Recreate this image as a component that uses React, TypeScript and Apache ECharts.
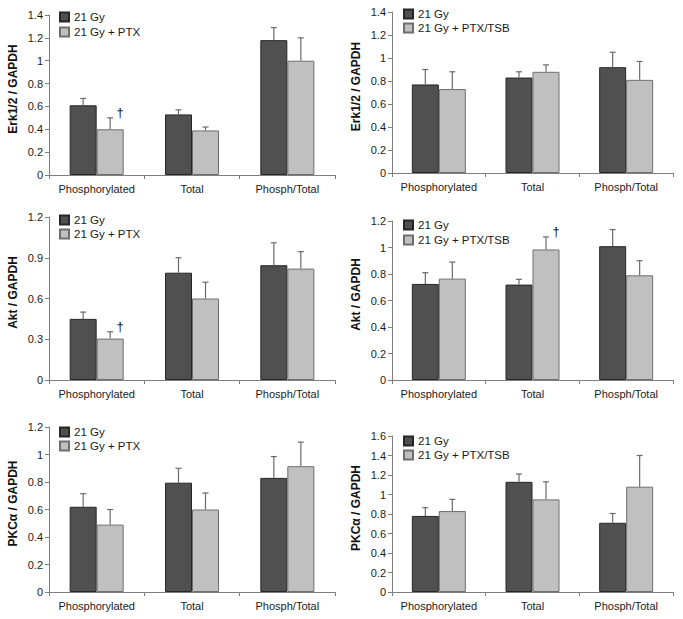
import React, { useEffect, useRef } from "react";
import * as echarts from "echarts";

const categories = ["Phosphorylated", "Total", "Phosph/Total"];
const darkName = "21 Gy";
const ptxName = "21 Gy + PTX";
const tsbName = "21 Gy + PTX/TSB";

// Erk1/2, PTX
const erkPtxDark = [0.61, 0.53, 1.18];
const erkPtxDarkTop = [0.67, 0.57, 1.29];
const erkPtxLight = [0.4, 0.39, 1.0];
const erkPtxLightTop = [0.5, 0.42, 1.2];
// Erk1/2, PTX/TSB
const erkTsbDark = [0.77, 0.83, 0.92];
const erkTsbDarkTop = [0.9, 0.88, 1.05];
const erkTsbLight = [0.73, 0.88, 0.81];
const erkTsbLightTop = [0.88, 0.94, 0.97];
// Akt, PTX
const aktPtxDark = [0.45, 0.79, 0.845];
const aktPtxDarkTop = [0.5, 0.9, 1.01];
const aktPtxLight = [0.305, 0.6, 0.82];
const aktPtxLightTop = [0.355, 0.72, 0.945];
// Akt, PTX/TSB
const aktTsbDark = [0.725, 0.72, 1.01];
const aktTsbDarkTop = [0.81, 0.76, 1.135];
const aktTsbLight = [0.765, 0.985, 0.79];
const aktTsbLightTop = [0.89, 1.08, 0.9];
// PKCa, PTX
const pkcPtxDark = [0.62, 0.795, 0.83];
const pkcPtxDarkTop = [0.715, 0.9, 0.985];
const pkcPtxLight = [0.49, 0.6, 0.915];
const pkcPtxLightTop = [0.6, 0.72, 1.09];
// PKCa, PTX/TSB
const pkcTsbDark = [0.78, 1.13, 0.71];
const pkcTsbDarkTop = [0.865, 1.21, 0.805];
const pkcTsbLight = [0.83, 0.95, 1.08];
const pkcTsbLightTop = [0.95, 1.13, 1.4];

const yMaxes = [1.4, 1.4, 1.2, 1.2, 1.2, 1.6];
const yIntervals = [0.2, 0.2, 0.3, 0.2, 0.2, 0.2];
const yNames = [
  "Erk1/2 / GAPDH",
  "Erk1/2 / GAPDH",
  "Akt / GAPDH",
  "Akt / GAPDH",
  "PKCα / GAPDH",
  "PKCα / GAPDH",
];
// dagger: category index on the light bar, or -1
const daggers = [0, -1, 0, 1, -1, -1];

const panels = [
  { light: ptxName, d: erkPtxDark, dt: erkPtxDarkTop, l: erkPtxLight, lt: erkPtxLightTop },
  { light: tsbName, d: erkTsbDark, dt: erkTsbDarkTop, l: erkTsbLight, lt: erkTsbLightTop },
  { light: ptxName, d: aktPtxDark, dt: aktPtxDarkTop, l: aktPtxLight, lt: aktPtxLightTop },
  { light: tsbName, d: aktTsbDark, dt: aktTsbDarkTop, l: aktTsbLight, lt: aktTsbLightTop },
  { light: ptxName, d: pkcPtxDark, dt: pkcPtxDarkTop, l: pkcPtxLight, lt: pkcPtxLightTop },
  { light: tsbName, d: pkcTsbDark, dt: pkcTsbDarkTop, l: pkcTsbLight, lt: pkcTsbLightTop },
];

// layout (pixels)
const grids = [
  { left: 49, top: 15, width: 286, height: 160 },
  { left: 392, top: 12, width: 281, height: 161 },
  { left: 49, top: 217, width: 286, height: 163 },
  { left: 392, top: 221, width: 281, height: 159 },
  { left: 49, top: 427, width: 286, height: 165 },
  { left: 392, top: 436, width: 281, height: 156 },
];
const legendPos = [
  { left: 59, top: 11, itemGap: 3 },
  { left: 403, top: 8, itemGap: 2 },
  { left: 59, top: 214, itemGap: 2 },
  { left: 403, top: 219, itemGap: 3 },
  { left: 59, top: 426, itemGap: 2 },
  { left: 403, top: 435, itemGap: 2 },
];

const DARK = "#505050";
const LIGHT = "#c0c0c0";
const FONT = "Liberation Sans, Arial, sans-serif";
const BAR_W = 27;

function buildOption() {
  const grid: any[] = [];
  const xAxis: any[] = [];
  const yAxis: any[] = [];
  const legend: any[] = [];
  const series: any[] = [];

  panels.forEach((p, i) => {
    grid.push({ ...grids[i], containLabel: false });
    xAxis.push({
      type: "category",
      gridIndex: i,
      data: categories,
      axisLine: { lineStyle: { color: "#7f7f7f", width: 1 } },
      axisTick: { show: true, length: 4, lineStyle: { color: "#7f7f7f" } },
      axisLabel: {
        color: "#1a1a1a",
        fontSize: 11,
        fontFamily: FONT,
        margin: 8,
        interval: 0,
        hideOverlap: false,
      },
    });
    yAxis.push({
      type: "value",
      gridIndex: i,
      min: 0,
      max: yMaxes[i],
      interval: yIntervals[i],
      name: yNames[i],
      nameLocation: "middle",
      nameGap: 30,
      nameTextStyle: {
        fontWeight: "bold",
        fontSize: 12,
        fontFamily: FONT,
        color: "#111",
        padding: [0, 0, 0, 12],
      },
      axisLine: { show: true, lineStyle: { color: "#7f7f7f", width: 1 } },
      axisTick: { show: true, length: 4, lineStyle: { color: "#7f7f7f" } },
      splitLine: { show: false },
      axisLabel: { color: "#1a1a1a", fontSize: 11, fontFamily: FONT, margin: 6 },
    });
    legend.push({
      left: legendPos[i].left,
      top: legendPos[i].top,
      padding: 0,
      orient: "vertical",
      data: [darkName, p.light],
      icon: "rect",
      itemWidth: 9,
      itemHeight: 9,
      itemGap: legendPos[i].itemGap,
      selectedMode: false,
      textStyle: { fontSize: 11.5, fontFamily: FONT, color: "#1a1a1a" },
    });
    series.push({
      type: "bar",
      name: darkName,
      xAxisIndex: i,
      yAxisIndex: i,
      data: p.d,
      barWidth: BAR_W,
      barGap: "0%",
      itemStyle: { color: DARK, borderColor: "#262626", borderWidth: 1 },
    });
    series.push({
      type: "bar",
      name: p.light,
      xAxisIndex: i,
      yAxisIndex: i,
      data: p.l,
      barWidth: BAR_W,
      barGap: "0%",
      itemStyle: { color: LIGHT, borderColor: "#6e6e6e", borderWidth: 1 },
    });
    const errData: any[] = [];
    p.d.forEach((v, k) => errData.push([k, v, p.dt[k], -1, 0]));
    p.l.forEach((v, k) => errData.push([k, v, p.lt[k], 1, daggers[i] === k ? 1 : 0]));
    series.push({
      type: "custom",
      name: "err" + i,
      xAxisIndex: i,
      yAxisIndex: i,
      z: 5,
      itemStyle: { color: "#111111" },
      data: errData,
      encode: { x: 0, y: [1, 2] },
      renderItem: (params: any, api: any) => {
        const base = api.coord([api.value(0), api.value(1)]);
        const top = api.coord([api.value(0), api.value(2)]);
        const x = base[0] + (api.value(3) * BAR_W) / 2;
        const stroke = { stroke: "#6a6a6a", lineWidth: 1.2 };
        const children: any[] = [
          { type: "line", shape: { x1: x, y1: base[1], x2: x, y2: top[1] }, style: stroke },
          { type: "line", shape: { x1: x - 3, y1: top[1], x2: x + 3, y2: top[1] }, style: stroke },
        ];
        if (api.value(4) === 1) {
          children.push({
            type: "text",
            x: x + 10,
            y: top[1] - 5,
            style: {
              text: "†",
              fill: "#111111",
              fontSize: 13,
              fontFamily: FONT,
              align: "center",
              verticalAlign: "middle",
            },
          });
        }
        return { type: "group", children };
      },
    });
  });

  return {
    animation: false,
    backgroundColor: "#ffffff",
    textStyle: { fontFamily: FONT },
    grid,
    xAxis,
    yAxis,
    legend,
    series,
  };
}

export default function App() {
  const ref = useRef<HTMLDivElement>(null);
  useEffect(() => {
    if (!ref.current) return;
    const chart = echarts.init(ref.current, undefined, { renderer: "svg" });
    chart.setOption(buildOption());
    return () => chart.dispose();
  }, []);
  return (
    <div
      ref={ref}
      style={{ position: "fixed", left: 0, top: 0, width: 683, height: 619, background: "#fff" }}
    />
  );
}
